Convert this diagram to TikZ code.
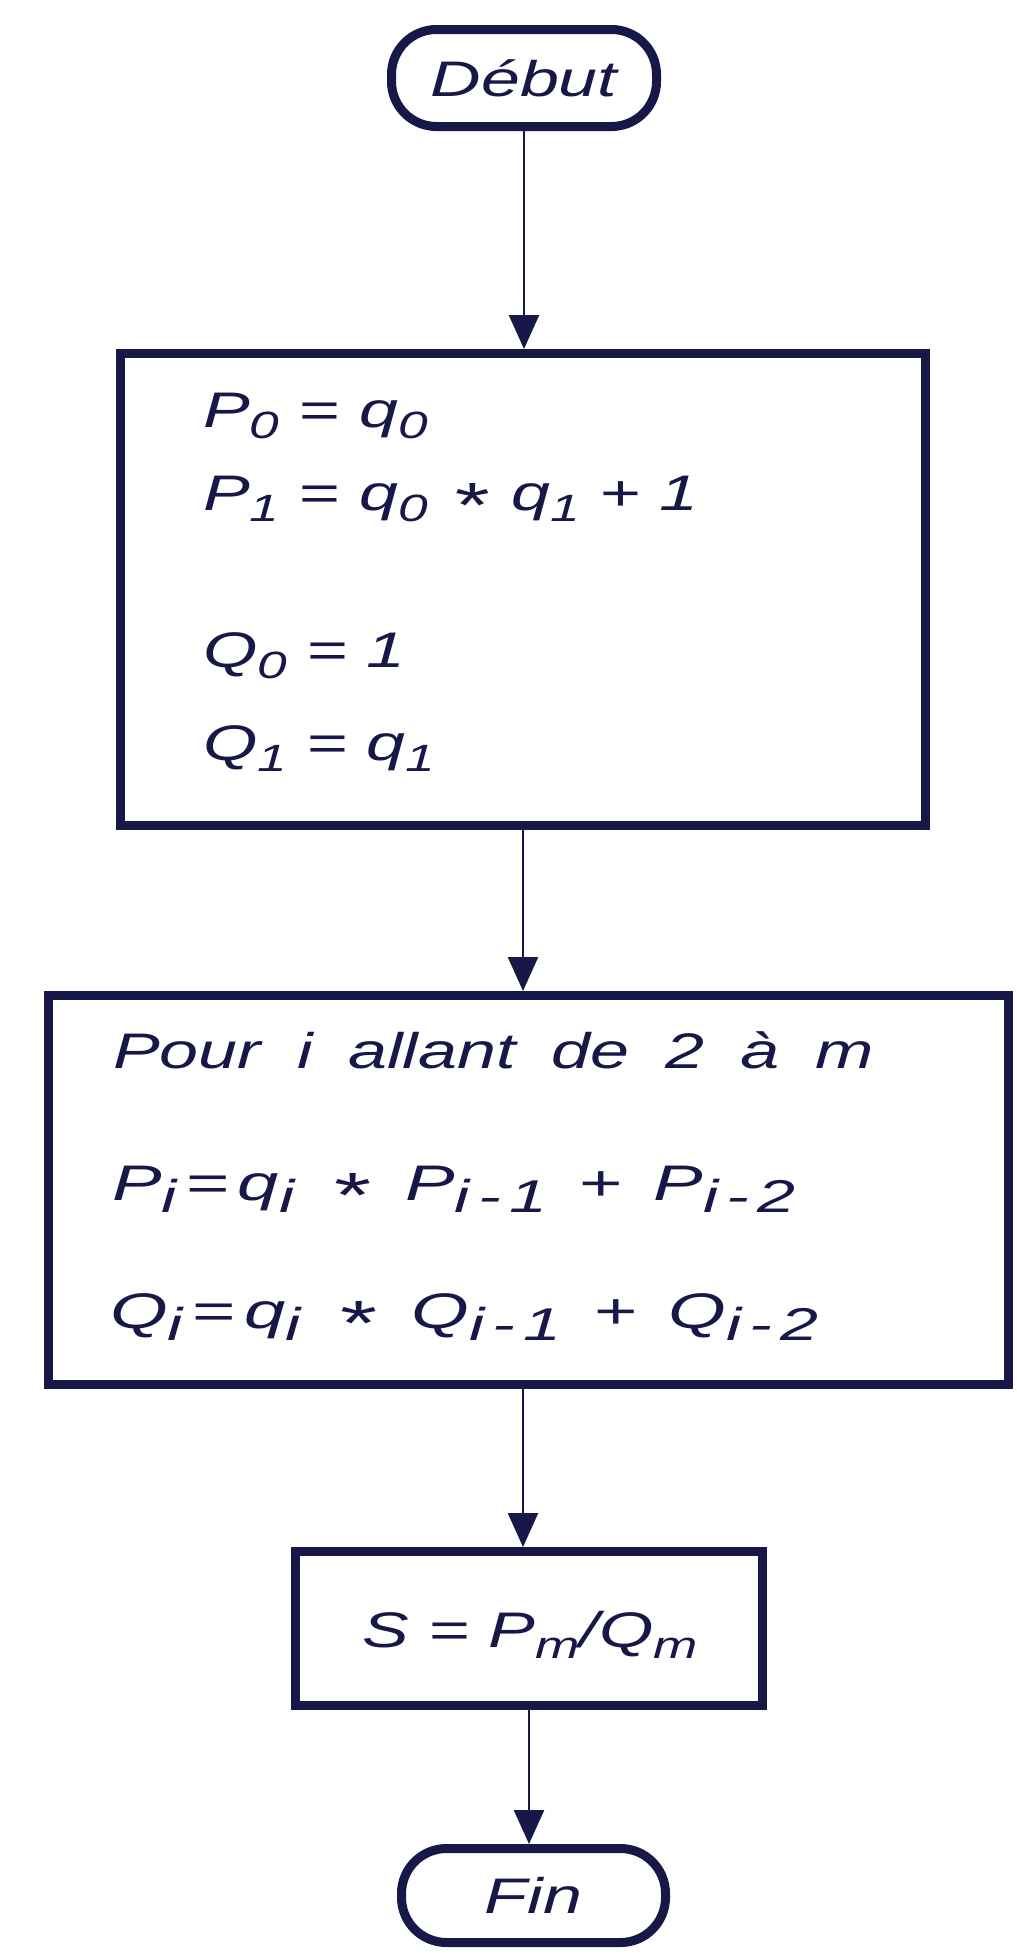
\documentclass[tikz,border=0pt]{standalone}
\usepackage{fontspec}
\usepackage{graphicx}
\usetikzlibrary{arrows.meta}
\newfontfamily\hand{Liberation Sans}[FakeStretch=1.4]
\definecolor{ink}{RGB}{24,24,72}
\newcommand\dn[1]{\raisebox{-0.22em}{\fontsize{38}{40}\selectfont #1}}
\newcommand\dnb[1]{\raisebox{-0.25em}{\fontsize{46}{48}\selectfont #1}}
\newcommand\stx{\hspace{4pt}\raisebox{-17pt}{\fontsize{64}{64}\selectfont *}\hspace{6pt}}
\newcommand\wsp{\hspace{36pt}}
\newcommand\wsq{\hspace{30pt}}
\begin{document}
\begin{tikzpicture}[x=1pt,y=-1pt,
  box/.style={draw=ink, line width=9pt, rectangle, inner sep=0pt},
  pill/.style={draw=ink, line width=9pt, rectangle, rounded corners=45pt, inner sep=0pt,
    text=ink, font=\hand\itshape\fontsize{50}{60}\selectfont},
  txt/.style={text=ink, font=\hand\itshape\fontsize{50}{60}\selectfont, inner sep=0pt, anchor=base west},
  arr/.style={draw=ink, line width=2.5pt, -{Triangle[length=34pt,width=30pt]}}]
\useasboundingbox[fill=white] (0,0) rectangle (1017,1957);

\node[pill, minimum width=265pt, minimum height=97pt] (debut) at (524,78) {Début};

\node[box, minimum width=805pt, minimum height=472pt] (b1) at (523,589.5) {};
\node[txt] (l1) at (203,427) {P\dn{0} = q\dn{0}};
\node[txt] (l2) at (203,510) {P\dn{1} = q\dn{0} \stx\ q\dn{1} + 1};
\node[txt] (l3) at (203,667) {Q\dn{0} = 1};
\node[txt] (l4) at (203,760) {Q\dn{1} = q\dn{1}};

\node[box, minimum width=960pt, minimum height=389pt] (b2) at (528.5,1190) {};
\node[txt] (m1) at (113,1068) {Pour\wsp i\wsp allant\wsp de\wsp 2\wsp à\wsp m};
\node[txt] (m2) at (112,1200) {\scalebox{1.06}[1]{P\dnb{i}\,=\,q\dnb{i}\wsq\stx\wsq P\dnb{i\,-\,1}\wsq+\wsq P\dnb{i\,-\,2}}};
\node[txt] (m3) at (110,1328) {\scalebox{1.06}[1]{Q\dnb{i}\,=\,q\dnb{i}\wsq\stx\wsq Q\dnb{i\,-\,1}\wsq+\wsq Q\dnb{i\,-\,2}}};

\node[box, minimum width=467pt, minimum height=154pt] (b3) at (529,1628.5) {};
\node[txt, anchor=base] (s) at (530,1647) {S = P\dn{m}/Q\dn{m}};

\node[pill, minimum width=264pt, minimum height=94pt] (fin) at (533.5,1895.5) {Fin};

\draw[arr] (debut.south) -- (debut.south |- b1.north);
\draw[arr] (b1.south) -- (b1.south |- b2.north);
\draw[arr] (b2.south -| b1.south) -- (b1.south |- b3.north);
\draw[arr] (b3.south) -- (b3.south |- fin.north);
\end{tikzpicture}
\end{document}
